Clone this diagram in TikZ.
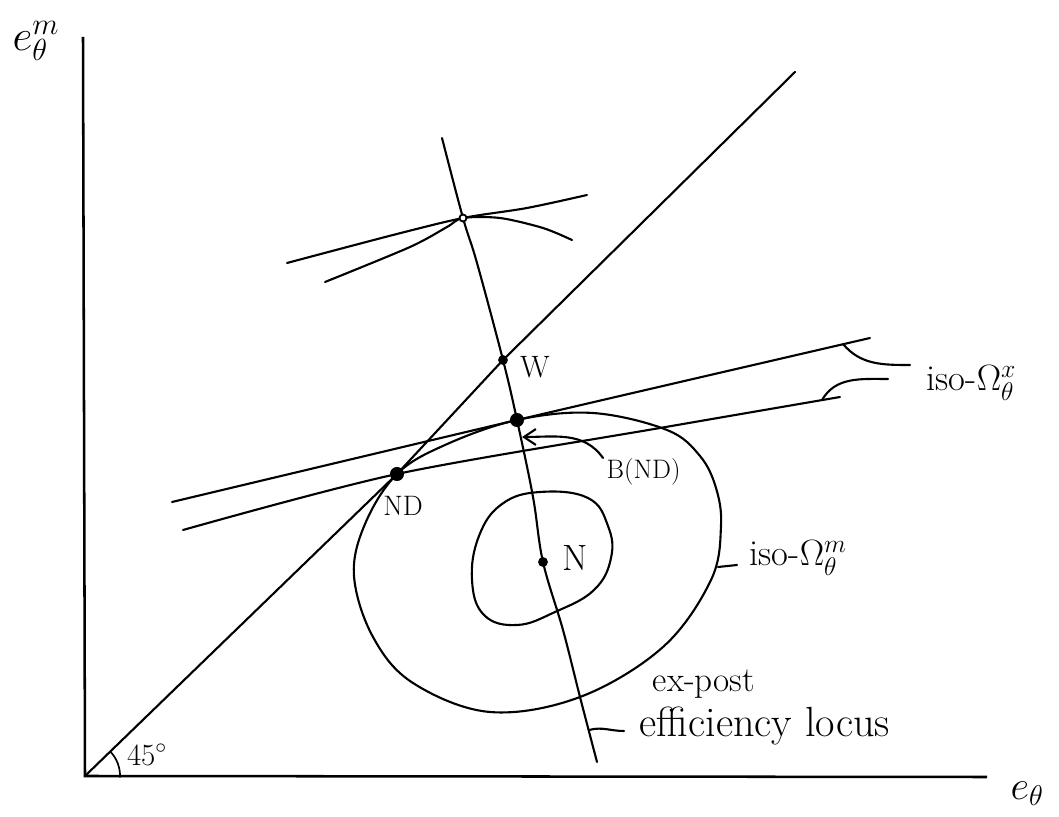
\documentclass[tikz,border=0pt]{standalone}
\usepackage{fix-cm}
\usetikzlibrary{arrows.meta}

\begin{document}
\begin{tikzpicture}[
  x=0.025cm, y=0.025cm,
  >={Straight Barb[length=3mm, width=4mm]},
  curve/.style={line width=1.5pt, line cap=round, line join=round},
  axis/.style={line width=1.8pt},
  dot/.style={circle, fill, inner sep=0pt, minimum size=#1},
  dot/.default=9pt,
  ring/.style={circle, draw, fill=white, line width=1.3pt, inner sep=0pt, minimum size=5pt},
  lbl/.style={inner sep=1pt, font=\fontsize{24}{28}\selectfont}
]
\useasboundingbox (0,0) rectangle (1059,816);

% axes
\coordinate (O) at (85,40);
\coordinate (ytop) at (83,779);
\coordinate (xend) at (987,39);
\draw[axis] (ytop) -- (O) -- (xend);
\node[lbl, font=\fontsize{31}{36}\selectfont] (eym) at (36,775) {$e^m_\theta$};
\node[lbl, font=\fontsize{29}{34}\selectfont] (exl) at (1027,22) {$e_\theta$};

% 45 degree line
\coordinate (top45) at (795,744);
\node[dot=10pt] (ND) at (397,342) {};
\node[dot=7pt] (W) at (503,456) {};
\draw[curve] (O) -- (ND.center) -- (W.center) -- (top45);
\draw[curve, line width=1.2pt] (O) ++(35,-1) arc[start angle=-2, end angle=44, radius=35];
\node[lbl, font=\fontsize{22}{24}\selectfont] (deg) at (147,61) {45$^\circ$};

% ex-post efficiency locus
\coordinate (Ltop) at (442,678);
\coordinate (P) at (463,598);
\node[dot=10pt] (B) at (517,396) {};
\node[dot=7pt] (N) at (543,254) {};
\coordinate (Lend) at (597,54);
\draw[curve] plot[smooth, tension=0.6] coordinates {(Ltop) (P) (477,553) (W.center) (B.center) (533,319) (N.center) (563,186) (580,119) (Lend)};

% curves through the top point
\coordinate (uppL) at (287,553);
\coordinate (uppR) at (587,621);
\coordinate (arcL) at (325,534);
\coordinate (arcR) at (572,576);
\draw[curve] plot[smooth] coordinates {(uppL) (393,581) (P) (527,608) (uppR)};
\draw[curve] plot[smooth] coordinates {(arcL) (410,569) (447,589) (P) (500,598) (543,588) (arcR)};
\node[ring] (Pmark) at (P) {};

% iso-Omega^x lines
\coordinate (isoUL) at (172,314);
\coordinate (isoUR) at (870,478);
\coordinate (isoLL) at (183,286);
\coordinate (isoLR) at (840,419);
\draw[curve] plot[smooth] coordinates {(isoUL) (B.center) (isoUR)};
\draw[curve] plot[smooth] coordinates {(isoLL) (ND.center) (660,388) (isoLR)};
\coordinate (hookU) at (843,472);
\coordinate (hookUe) at (910,451);
\coordinate (hookL) at (822,416);
\coordinate (hookLe) at (888,437);
\draw[curve] (hookU) to[out=-50, in=180] (hookUe);
\draw[curve] (hookL) to[out=60, in=180] (hookLe);
\node[lbl, anchor=west, font=\fontsize{26}{30}\selectfont] (isoX) at (925,433) {iso-$\Omega^x_\theta$};

% iso-Omega^m contours
\draw[curve] plot[smooth cycle, tension=0.6] coordinates {(ND.center) (445,371) (B.center) (593,403) (667,386) (700,360) (716,328) (721,290) (711,236) (663,169) (580,119) (490,104) (413,133) (373,179) (354,240) (365,292)};
\draw[curve] plot[smooth cycle, tension=0.7] coordinates {(540,324) (588,318) (608,290) (611,258) (594,226) (555,204) (517,191) (484,201) (472,236) (479,280) (502,312)};
\coordinate (omL) at (718,249);
\coordinate (omR) at (737,251);
\draw[curve] (omL) -- (omR);
\node[lbl, anchor=west, font=\fontsize{26}{30}\selectfont] (isoM) at (748,258) {iso-$\Omega^m_\theta$};

% point labels
\node[lbl, font=\fontsize{22}{24}\selectfont] (Wlab) at (535,449) {W};
\node[lbl, font=\fontsize{20}{24}\selectfont] (NDlab) at (403,310) {ND};
\node[lbl, font=\fontsize{26}{30}\selectfont] (Nlab) at (575,258) {N};
\node[lbl, font=\fontsize{19}{22}\selectfont, anchor=west] (BNDlab) at (605,344) {B(ND)};
\coordinate (bnd0) at (603,358);
\coordinate (Btip) at (522,379);
\draw[curve, ->] (bnd0) to[out=125, in=0] (Btip);

% locus label
\node[lbl, font=\fontsize{25}{28}\selectfont] (expost) at (704,132) {ex-post};
\node[lbl, anchor=west, font=\fontsize{30}{34}\selectfont] (efflab) at (638,90) {efficiency locus};
\coordinate (effL) at (589,86);
\coordinate (effR) at (624,85);
\draw[curve] (effL) to[out=15, in=180] (effR);
\end{tikzpicture}
\end{document}
